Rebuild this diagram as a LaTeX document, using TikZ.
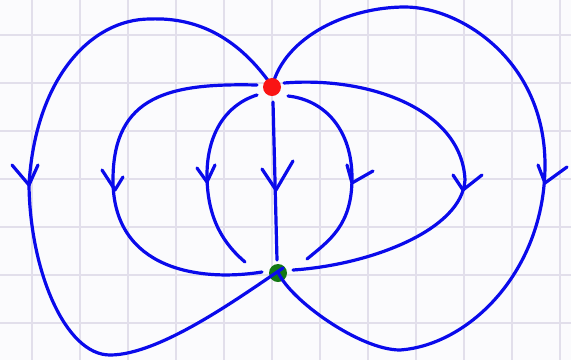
\documentclass[tikz,border=0pt]{standalone}
\definecolor{paper}{RGB}{251,251,253}
\definecolor{gridc}{RGB}{226,223,235}
\definecolor{pen}{RGB}{10,10,235}
\definecolor{reddot}{RGB}{250,20,20}
\definecolor{greendot}{RGB}{20,120,20}
\tikzset{
  gridline/.style={gridc, line width=2pt},
  flow/.style={pen, line width=3.2pt, line cap=round, line join=round},
  barb/.style={pen, line width=3.2pt, line cap=round, line join=round},
  dotnode/.style={circle, inner sep=0pt, minimum size=18pt}
}
\begin{document}
\begin{tikzpicture}[x=1pt, y=-1pt]
\fill[paper] (0,0) rectangle (571,360);
\useasboundingbox (0,0) rectangle (571,360);
\foreach \gx in {32,80,...,560} \draw[gridline] (\gx,0) -- (\gx,360);
\foreach \gy in {35,83,...,323} \draw[gridline] (0,\gy) -- (571,\gy);

\node[dotnode, fill=greendot] (sink) at (278,273) {};

% center
\draw[flow] (273,102) -- (277,260);
\draw[barb] (262,169) -- (276,190) -- (293,161);
% inner left
\draw[flow] (257,95) .. controls (225,105) and (207,135) .. (207,175)
                     .. controls (207,220) and (225,245) .. (245,262);
\draw[barb] (197,168) -- (207,182) -- (215,165);
% inner right
\draw[flow] (288,96) .. controls (325,100) and (352,130) .. (352,178)
                     .. controls (352,225) and (330,240) .. (307,259);
\draw[barb] (347,165) -- (352,183) -- (373,171);
% middle left
\draw[flow] (257,85) .. controls (170,83) and (113,95) .. (113,180)
                     .. controls (113,270) and (200,282) .. (262,272);
\draw[barb] (102,170) -- (115,190) -- (123,177);
% middle right
\draw[flow] (284,83) .. controls (370,76) and (462,110) .. (465,180)
                     .. controls (462,230) and (370,265) .. (293,270);
\draw[barb] (453,175) -- (463,190) -- (482,175);
% outer left
\draw[flow] (272,86) .. controls (240,40) and (200,17) .. (150,19)
                     .. controls (90,19) and (35,80) .. (29,185)
                     .. controls (30,270) and (65,355) .. (110,355)
                     .. controls (160,355) and (240,297) .. (283,268);
\draw[barb] (12,165) -- (29,185) -- (38,165);
% outer right
\draw[flow] (272,87) .. controls (285,35) and (350,7) .. (405,7)
                     .. controls (460,7) and (545,60) .. (545,165)
                     .. controls (545,270) and (470,345) .. (400,350)
                     .. controls (360,350) and (290,300) .. (278,272);
\draw[barb] (538,165) -- (545,183) -- (567,167);

\node[dotnode, fill=reddot] (source) at (272,87) {};
\end{tikzpicture}
\end{document}
